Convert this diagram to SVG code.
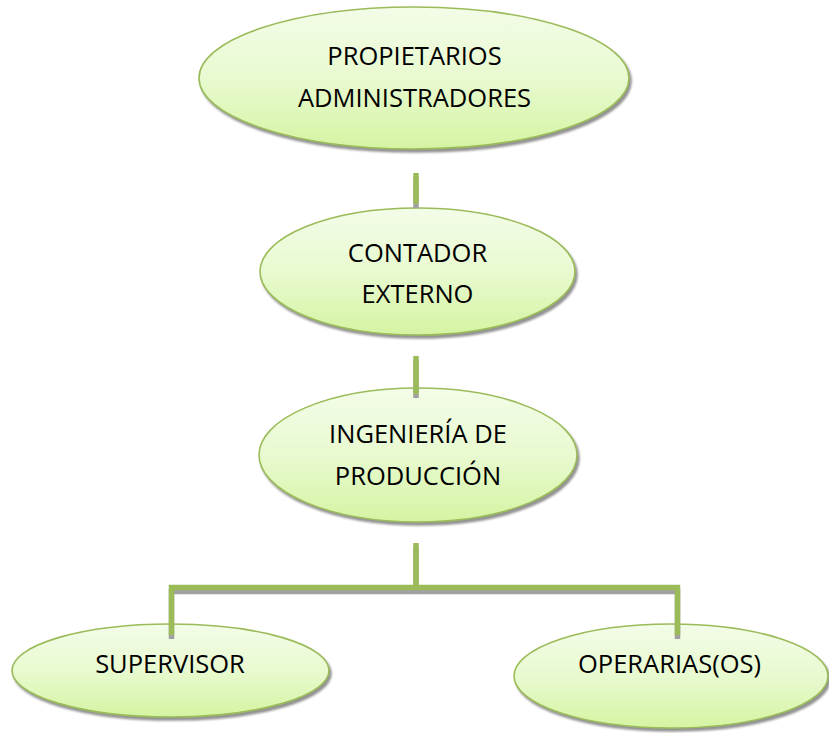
<svg xmlns="http://www.w3.org/2000/svg" width="829" height="733" viewBox="0 0 829 733">
  <defs>
    <linearGradient id="fillGreen" x1="0" y1="0" x2="0" y2="1">
      <stop offset="0" stop-color="#f3fce8"/>
      <stop offset="0.5" stop-color="#e8fad0"/>
      <stop offset="1" stop-color="#d5f4a2"/>
    </linearGradient>
    <filter id="shadow" x="-10%" y="-10%" width="125%" height="130%">
      <feGaussianBlur in="SourceAlpha" stdDeviation="1.2" result="b"/>
      <feOffset in="b" dx="2" dy="3" result="o"/>
      <feFlood flood-color="#7f7f7f" flood-opacity="0.85"/>
      <feComposite in2="o" operator="in" result="s"/>
      <feMerge>
        <feMergeNode in="s"/>
        <feMergeNode in="SourceGraphic"/>
      </feMerge>
    </filter>
    <filter id="lineShadow" filterUnits="userSpaceOnUse" x="0" y="0" width="829" height="733">
      <feOffset in="SourceAlpha" dx="0" dy="4" result="o"/>
      <feFlood flood-color="#a0a0a0"/>
      <feComposite in2="o" operator="in" result="s"/>
      <feMerge>
        <feMergeNode in="s"/>
        <feMergeNode in="SourceGraphic"/>
      </feMerge>
    </filter>
  </defs>
  <style>
    .node ellipse { fill: url(#fillGreen); stroke: #9bbb59; stroke-width: 1.6; filter: url(#shadow); }
    .node text { font-family: "Open Sans", "Liberation Sans", sans-serif; font-size: 25.5px; fill: #000000; text-anchor: middle; }
    .conn { fill: none; stroke: #9bbb59; stroke-width: 5.5; stroke-linecap: butt; stroke-linejoin: miter; filter: url(#lineShadow); }
  </style>

  <rect width="829" height="733" fill="#ffffff"/>

  <g id="propietarios" class="node">
    <ellipse cx="414" cy="78" rx="215" ry="71"/>
    <text x="414.5" y="65">PROPIETARIOS</text>
    <text x="414.5" y="107">ADMINISTRADORES</text>
  </g>

  <g id="contador" class="node">
    <ellipse cx="417.5" cy="271.5" rx="157.5" ry="63.5"/>
    <text x="417.5" y="262">CONTADOR</text>
    <text x="417.5" y="303">EXTERNO</text>
  </g>

  <g id="ingenieria" class="node">
    <ellipse cx="418" cy="455" rx="159" ry="67"/>
    <text x="418" y="443">INGENIERÍA DE</text>
    <text x="418" y="485">PRODUCCIÓN</text>
  </g>

  <g id="supervisor" class="node">
    <ellipse cx="170.5" cy="670.5" rx="158.5" ry="46.5"/>
    <text x="170" y="673">SUPERVISOR</text>
  </g>

  <g id="operarias" class="node">
    <ellipse cx="671" cy="676" rx="157" ry="52"/>
    <text x="669.5" y="673">OPERARIAS(OS)</text>
  </g>

  <g id="connectors">
    <path class="conn" d="M416 173 V204"/>
    <path class="conn" d="M416 356 V394"/>
    <path class="conn" d="M416 543 V585"/>
    <path class="conn" d="M171.5 635 V587.5 H677.5 V635"/>
  </g>
</svg>
